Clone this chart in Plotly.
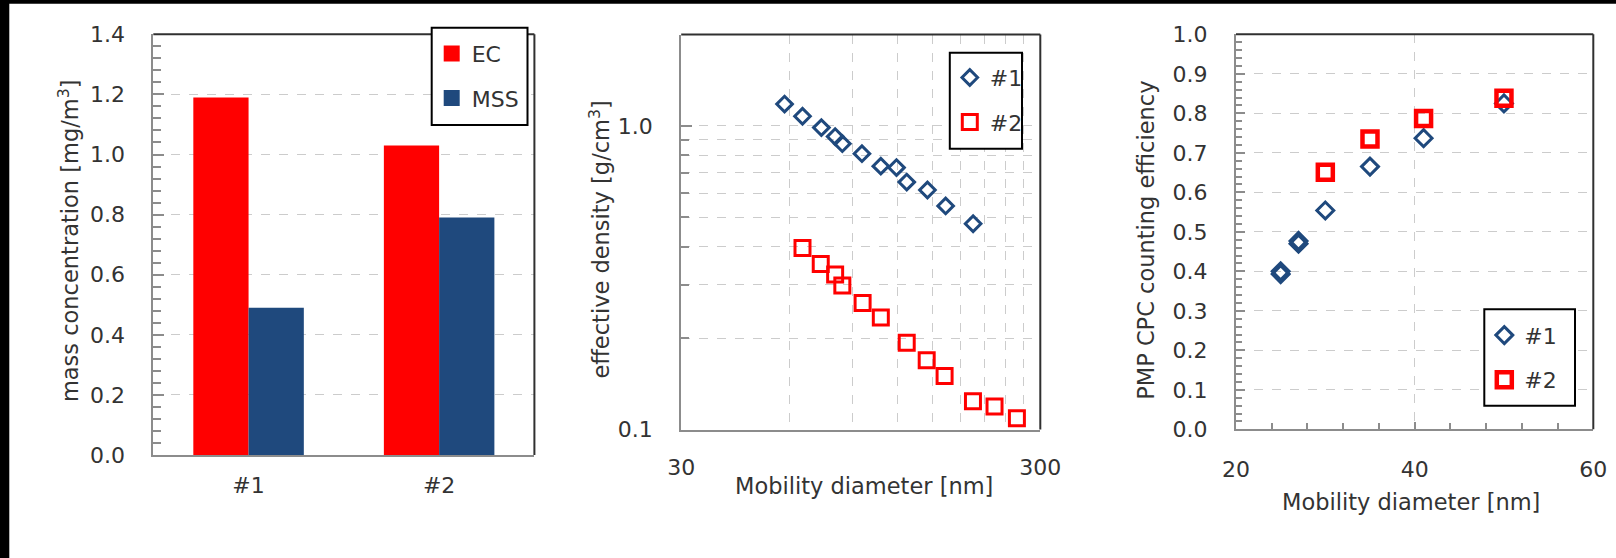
import plotly.graph_objects as go
import math

# ---------------- data ----------------
samples = ["#1", "#2"]
ec_conc = [1.19, 1.03]
mss_conc = [0.49, 0.79]

dens_d1 = [58.2, 65.3, 73.7, 80.5, 84.3, 95.6, 107.9, 119.3, 127.4, 145.5, 163.5, 195.0]
dens_r1 = [1.18, 1.076, 0.987, 0.922, 0.874, 0.810, 0.737, 0.729, 0.653, 0.615, 0.545, 0.476]
dens_d2 = [65.3, 73.4, 80.5, 84.3, 96.0, 107.9, 127.4, 144.8, 162.4, 194.8, 223.7, 258.2]
dens_r2 = [0.396, 0.351, 0.324, 0.298, 0.261, 0.234, 0.193, 0.169, 0.150, 0.124, 0.119, 0.109]

cpc_d1 = [25, 25, 27, 27, 30, 35, 41, 50]
cpc_e1 = [0.393, 0.400, 0.470, 0.477, 0.554, 0.665, 0.737, 0.825]
cpc_d2 = [30, 35, 41, 50]
cpc_e2 = [0.651, 0.735, 0.787, 0.838]

dens_xticks = [30, 300]
dens_xminor = [60, 90, 120, 150, 180, 210, 240, 270]
dens_yticks = [0.1, 1.0]
dens_yminor = [0.2, 0.3, 0.4, 0.5, 0.6, 0.7, 0.8, 0.9, 2.0]

# ---------------- style ----------------
W, H = 1616, 558
RED = "#FF0000"
BLUE = "#1F497D"
TXT = "#333333"
AXIS = "#8C8C8C"
FRAME = "#303030"
GRID = "#CCCCCC"
FONT = "DejaVu Sans"
FS = 22
FS_TITLE = 22.5


def px(x):
    return x / W


def py(y):
    return 1 - y / H


fig = go.Figure()

# Panel 1: bars
fig.add_trace(go.Bar(x=samples, y=ec_conc, name="EC", marker=dict(color=RED, line=dict(width=0)),
                     xaxis="x", yaxis="y", showlegend=False))
fig.add_trace(go.Bar(x=samples, y=mss_conc, name="MSS", marker=dict(color=BLUE, line=dict(width=0)),
                     xaxis="x", yaxis="y", showlegend=False))
# legend entries (square swatches)
fig.add_trace(go.Scatter(x=[None], y=[None], mode="markers", name="EC", xaxis="x", yaxis="y",
                         marker=dict(symbol="square", size=16, color=RED), legend="legend", legendgroup="a"))
fig.add_trace(go.Scatter(x=[None], y=[None], mode="markers", name="MSS", xaxis="x", yaxis="y",
                         marker=dict(symbol="square", size=16, color=BLUE), legend="legend", legendgroup="b"))

# Panel 2: effective density
fig.add_trace(go.Scatter(x=dens_d1, y=dens_r1, mode="markers", name="#1", xaxis="x2", yaxis="y2",
                         marker=dict(symbol="diamond-open", size=12, color=BLUE, line=dict(width=3, color=BLUE)),
                         legend="legend2", legendgroup="c"))
fig.add_trace(go.Scatter(x=dens_d2, y=dens_r2, mode="markers", name="#2", xaxis="x2", yaxis="y2",
                         marker=dict(symbol="square-open", size=15, color=RED, line=dict(width=3, color=RED)),
                         legend="legend2", legendgroup="d"))

# Panel 3: counting efficiency
fig.add_trace(go.Scatter(x=cpc_d1, y=cpc_e1, mode="markers", name="#1", xaxis="x3", yaxis="y3",
                         marker=dict(symbol="diamond-open", size=13, color=BLUE, line=dict(width=3, color=BLUE)),
                         legend="legend3", legendgroup="e"))
fig.add_trace(go.Scatter(x=cpc_d2, y=cpc_e2, mode="markers", name="#2", xaxis="x3", yaxis="y3",
                         marker=dict(symbol="square-open", size=15, color=RED, line=dict(width=4.5, color=RED)),
                         legend="legend3", legendgroup="f"))

tickfont = dict(family=FONT, size=FS, color=TXT)
common_line = dict(showline=True, linecolor=AXIS, linewidth=2, zeroline=False, automargin=False)

legend_common = dict(
    bgcolor="rgba(0,0,0,0)", borderwidth=0,
    font=dict(family=FONT, size=FS, color=TXT),
    xanchor="left", yanchor="top", tracegroupgap=13, itemwidth=30,
    traceorder="grouped",
)

# legend frames (left, top, right, bottom in pixels)
leg_boxes = [(431.7, 27.7, 527.5, 125.0), (949.8, 52.7, 1022.0, 148.8), (1484.3, 309.3, 1575.0, 405.7)]

fig.update_layout(
    width=W, height=H, autosize=False,
    margin=dict(l=0, r=0, t=0, b=0, pad=0, autoexpand=False),
    paper_bgcolor="white", plot_bgcolor="white",
    font=dict(family=FONT, size=FS, color=TXT),
    barmode="group", bargap=0.42, bargroupgap=0,
    xaxis=dict(domain=[px(153.3), px(534.4)], anchor="y", type="category",
               ticks="", showgrid=False, tickfont=tickfont, ticklabelstandoff=10, **common_line),
    yaxis=dict(domain=[py(455), py(34.3)], anchor="x", range=[0, 1.4], tick0=0, dtick=0.2,
               tickformat=".1f", ticks="inside", ticklen=11, tickwidth=2, tickcolor=AXIS,
               showgrid=True, gridcolor=GRID, griddash="dash", gridwidth=1,
               minor=dict(dtick=0.04, tick0=0, ticks="inside", ticklen=8, tickwidth=2, tickcolor=AXIS, showgrid=False),
               tickfont=tickfont, ticklabelstandoff=22, **common_line),
    xaxis2=dict(domain=[px(681.2), px(1040.3)], anchor="y2", type="log",
                range=[math.log10(30), math.log10(300)],
                tickmode="array", tickvals=dens_xticks, ticktext=[str(v) for v in dens_xticks],
                ticks="", showgrid=False,
                minor=dict(tickmode="array", tickvals=dens_xminor, ticks="", showgrid=True,
                           gridcolor=GRID, griddash="dash", gridwidth=1),
                tickfont=tickfont, ticklabelstandoff=17, **common_line),
    yaxis2=dict(domain=[py(429.5), py(34.5)], anchor="x2", type="log",
                range=[-1, math.log10(2.0)],
                tickmode="array", tickvals=dens_yticks, ticktext=["0.1", "1.0"],
                ticks="inside", ticklen=11, tickwidth=2, tickcolor=AXIS,
                showgrid=True, gridcolor=GRID, griddash="dash", gridwidth=1,
                minor=dict(tickmode="array", tickvals=dens_yminor, ticks="inside", ticklen=8, tickwidth=2,
                           tickcolor=AXIS, showgrid=True, gridcolor=GRID, griddash="dash", gridwidth=1),
                tickfont=tickfont, ticklabelstandoff=22, **common_line),
    xaxis3=dict(domain=[px(1236), px(1593.3)], anchor="y3", range=[20, 60],
                tickmode="array", tickvals=[20, 40, 60],
                ticks="inside", ticklen=7, tickwidth=2, tickcolor=AXIS,
                showgrid=True, gridcolor=GRID, griddash="dash", gridwidth=1,
                minor=dict(dtick=4, tick0=20, ticks="inside", ticklen=6, tickwidth=2, tickcolor=AXIS, showgrid=False),
                tickfont=tickfont, ticklabelstandoff=19, **common_line),
    yaxis3=dict(domain=[py(429.3), py(34.3)], anchor="x3", range=[0, 1.0], tick0=0, dtick=0.1,
                tickformat=".1f", ticks="inside", ticklen=9, tickwidth=2, tickcolor=AXIS,
                showgrid=True, gridcolor=GRID, griddash="dash", gridwidth=1,
                minor=dict(dtick=0.02, tick0=0, ticks="inside", ticklen=6, tickwidth=2, tickcolor=AXIS, showgrid=False),
                tickfont=tickfont, ticklabelstandoff=22, **common_line),
    legend=dict(x=px(leg_boxes[0][0]), y=py(leg_boxes[0][1] + 5), **legend_common),
    legend2=dict(x=px(leg_boxes[1][0]), y=py(leg_boxes[1][1] + 4), **legend_common),
    legend3=dict(x=px(leg_boxes[2][0]), y=py(leg_boxes[2][1] + 5), **legend_common),
)

# dark top / right frame lines
shapes = []
for xa, ya in [("x", "y"), ("x2", "y2"), ("x3", "y3")]:
    shapes.append(dict(type="line", xref=f"{xa} domain", yref=f"{ya} domain", x0=0, x1=1, y0=1, y1=1,
                       line=dict(color=FRAME, width=2), layer="above"))
    shapes.append(dict(type="line", xref=f"{xa} domain", yref=f"{ya} domain", x0=1, x1=1, y0=0, y1=1,
                       line=dict(color=FRAME, width=2), layer="above"))
# legend frames
for (l, t, r, b) in leg_boxes:
    shapes.append(dict(type="rect", xref="paper", yref="paper", x0=px(l), x1=px(r), y0=py(b), y1=py(t),
                       fillcolor="white", line=dict(color="black", width=2), layer="above"))
# black edges of the picture
shapes.append(dict(type="rect", xref="paper", yref="paper", x0=0, x1=px(9.3), y0=0, y1=1,
                   fillcolor="black", line=dict(width=0), layer="above"))
shapes.append(dict(type="rect", xref="paper", yref="paper", x0=0, x1=1, y0=py(3.8), y1=1,
                   fillcolor="black", line=dict(width=0), layer="above"))
fig.update_layout(shapes=shapes)

titlefont = dict(family=FONT, size=FS_TITLE, color=TXT)
annotations = [
    dict(text="mass concentration [mg/m<sup>3</sup>]", x=px(68.3), y=py(240.8), textangle=-90),
    dict(text="effective density [g/cm<sup>3</sup>]", x=px(598.5), y=py(240), textangle=-90),
    dict(text="Mobility diameter [nm]", x=px(863.7), y=py(486), textangle=0),
    dict(text="PMP CPC counting efficiency", x=px(1146), y=py(240.8), textangle=-90),
    dict(text="Mobility diameter [nm]", x=px(1411), y=py(501.5), textangle=0),
]
for a in annotations:
    a.update(xref="paper", yref="paper", xanchor="center", yanchor="middle", showarrow=False, font=titlefont)
fig.update_layout(annotations=annotations)

fig.write_html("out.html")
